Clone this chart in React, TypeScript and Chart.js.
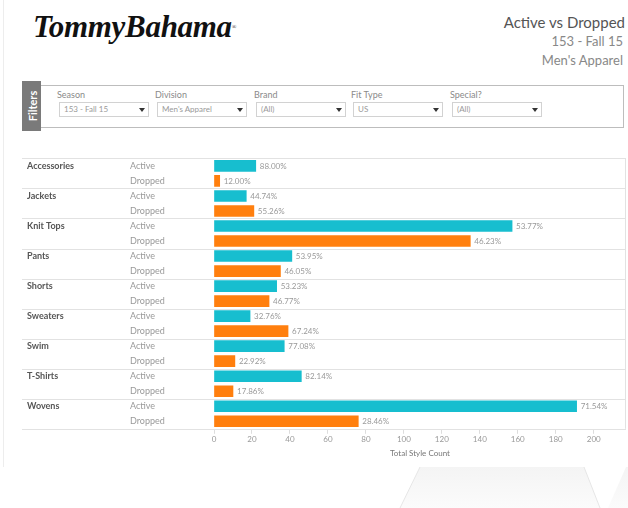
import React, { useEffect, useRef } from 'react';
import { Chart, registerables } from 'chart.js';

Chart.register(...registerables);

const categories = ['Accessories', 'Jackets', 'Knit Tops', 'Pants', 'Shorts', 'Sweaters', 'Swim', 'T-Shirts', 'Wovens'];
const statuses = ['Active', 'Dropped'];
const activeCounts = [22, 17, 157, 41, 33, 19, 37, 46, 191];
const droppedCounts = [3, 21, 135, 35, 29, 39, 11, 10, 76];
const activePct = ['88.00%', '44.74%', '53.77%', '53.95%', '53.23%', '32.76%', '77.08%', '82.14%', '71.54%'];
const droppedPct = ['12.00%', '55.26%', '46.23%', '46.05%', '46.77%', '67.24%', '22.92%', '17.86%', '28.46%'];
const xMin = 0;
const xMax = 217;
const xStep = 20;
const xTitle = 'Total Style Count';

const filterLabels = ['Season', 'Division', 'Brand', 'Fit Type', 'Special?'];
const filterValues = ['153 - Fall 15', "Men's Apparel", '(All)', 'US', '(All)'];

const titleText = 'Active vs Dropped';
const subtitle1 = '153 - Fall 15';
const subtitle2 = "Men's Apparel";

const ACTIVE_COLOR = '#17becf';
const DROPPED_COLOR = '#ff7f0e';
const FONT = 'Lato, "Open Sans", sans-serif';

const rowLabels: string[] = [];
const catLabels: string[] = [];
const rowValues: number[] = [];
const rowPct: string[] = [];
const rowColors: string[] = [];
categories.forEach((c, i) => {
  rowLabels.push(statuses[0], statuses[1]);
  catLabels.push(c, '');
  rowValues.push(activeCounts[i], droppedCounts[i]);
  rowPct.push(activePct[i], droppedPct[i]);
  rowColors.push(ACTIVE_COLOR, DROPPED_COLOR);
});

const overlayPlugin = {
  id: 'overlay',
  beforeDatasetsDraw(chart: any) {
    const ctx = chart.ctx;
    const ys = chart.scales.y;
    const right = chart.chartArea.right;
    ctx.save();
    ctx.strokeStyle = '#e2e2e2';
    ctx.lineWidth = 1;
    const n = categories.length;
    for (let k = 0; k <= n; k++) {
      const y = Math.round(ys.top + (k * (ys.bottom - ys.top)) / n) + 0.5;
      ctx.beginPath();
      ctx.moveTo(0, y);
      ctx.lineTo(right, y);
      ctx.stroke();
    }
    ctx.beginPath();
    ctx.moveTo(Math.round(right) - 0.5, ys.top);
    ctx.lineTo(Math.round(right) - 0.5, ys.bottom);
    ctx.stroke();
    ctx.restore();
  },
  afterDatasetsDraw(chart: any) {
    const ctx = chart.ctx;
    const meta = chart.getDatasetMeta(0);
    ctx.save();
    ctx.font = `8px ${FONT}`;
    ctx.fillStyle = '#999';
    ctx.textAlign = 'left';
    ctx.textBaseline = 'middle';
    meta.data.forEach((bar: any, i: number) => {
      ctx.fillText(rowPct[i], bar.x + 4, bar.y + 0.5);
    });
    ctx.restore();
  },
};

function BarChart() {
  const ref = useRef<HTMLCanvasElement>(null);
  useEffect(() => {
    if (!ref.current) return;
    const chart = new Chart(ref.current, {
      type: 'bar',
      data: {
        labels: rowLabels,
        datasets: [
          {
            data: rowValues,
            backgroundColor: rowColors,
            borderWidth: 0,
            barThickness: 11,
          },
        ],
      },
      options: {
        indexAxis: 'y',
        animation: false,
        responsive: false,
        devicePixelRatio: 1,
        layout: { padding: { left: 5, right: 2, top: 7, bottom: 0 } },
        plugins: {
          legend: { display: false },
          tooltip: { enabled: false },
        },
        scales: {
          x: {
            type: 'linear',
            min: xMin,
            max: xMax,
            ticks: {
              stepSize: xStep,
              includeBounds: false,
              color: '#999',
              font: { family: FONT, size: 8 },
              padding: 1,
            },
            grid: { drawOnChartArea: false, drawTicks: true, tickLength: 5, color: '#dddddd' },
            border: { display: false },
            title: {
              display: true,
              text: xTitle,
              color: '#777',
              font: { family: FONT, size: 8 },
              padding: { top: 3, bottom: 4 },
            },
          },
          y: {
            type: 'category',
            position: 'left',
            weight: 0,
            offset: true,
            ticks: {
              autoSkip: false,
              crossAlign: 'far',
              color: '#999',
              font: { family: FONT, size: 9 },
            },
            grid: { display: false },
            border: { display: false },
            afterFit: (s: any) => {
              s.width = 84;
            },
          },
          y2: {
            type: 'category',
            axis: 'y',
            position: 'left',
            weight: 1,
            offset: true,
            labels: catLabels,
            ticks: {
              autoSkip: false,
              crossAlign: 'far',
              color: '#555',
              font: { family: FONT, size: 9, weight: 'bold' },
            },
            grid: { display: false },
            border: { display: false },
            afterFit: (s: any) => {
              s.width = 103;
            },
          },
        },
      } as any,
      plugins: [overlayPlugin],
    });
    return () => chart.destroy();
  }, []);
  return <canvas ref={ref} width={606} height={312} style={{ width: 606, height: 312, display: 'block' }} />;
}

function Filters() {
  const boxLeft = [59, 157, 256, 353, 452];
  return (
    <>
      <div
        style={{
          position: 'absolute',
          left: 22,
          top: 81,
          width: 19,
          height: 50,
          background: '#7a7a7a',
        }}
      >
        <div
          style={{
            position: 'absolute',
            left: 9.5,
            top: 25,
            transform: 'translate(-50%, -50%) rotate(-90deg)',
            color: '#fff',
            fontWeight: 'bold',
            fontSize: 11,
            whiteSpace: 'nowrap',
            fontFamily: FONT,
          }}
        >
          Filters
        </div>
      </div>
      <div
        style={{
          position: 'absolute',
          left: 41,
          top: 85,
          width: 582,
          height: 41,
          borderTop: '1px solid #bdbdbd',
          borderBottom: '1px solid #bdbdbd',
          borderRight: '1px solid #bdbdbd',
          background: '#fff',
        }}
      />
      {filterLabels.map((lab, i) => (
        <React.Fragment key={lab}>
          <div
            style={{
              position: 'absolute',
              left: boxLeft[i] - 2,
              top: 89,
              fontSize: 9,
              color: '#8a8a8a',
              fontFamily: FONT,
              lineHeight: '12px',
            }}
          >
            {lab}
          </div>
          <div
            style={{
              position: 'absolute',
              left: boxLeft[i],
              top: 102,
              width: 88,
              height: 13,
              border: '1px solid #d2d2d2',
              background: '#fff',
            }}
          >
            <div
              style={{
                position: 'absolute',
                left: 4,
                top: 0,
                fontSize: 8,
                color: '#9a9a9a',
                fontFamily: FONT,
                lineHeight: '13px',
              }}
            >
              {filterValues[i]}
            </div>
            <div
              style={{
                position: 'absolute',
                right: 3,
                top: 5,
                width: 0,
                height: 0,
                borderLeft: '3.5px solid transparent',
                borderRight: '3.5px solid transparent',
                borderTop: '4px solid #333',
              }}
            />
          </div>
        </React.Fragment>
      ))}
    </>
  );
}

export default function App() {
  return (
    <div
      style={{
        position: 'absolute',
        left: 0,
        top: 0,
        width: 628,
        height: 508,
        background: '#fff',
        overflow: 'hidden',
        fontFamily: FONT,
      }}
    >
      <svg width={628} height={41} style={{ position: 'absolute', left: 0, top: 467 }}>
        <defs>
          <linearGradient id="g1" x1="0" y1="0" x2="0" y2="1">
            <stop offset="0" stopColor="#f4f4f4" />
            <stop offset="1" stopColor="#fbfbfb" />
          </linearGradient>
        </defs>
        <polygon points="420,0 584,0 600,41 400,41" fill="url(#g1)" />
        <polygon points="628,0 628,41 608,41 626,0" fill="url(#g1)" />
        <line x1="420" y1="0" x2="400" y2="41" stroke="#e6e6e6" strokeWidth="1" />
        <line x1="584" y1="0" x2="600" y2="41" stroke="#e6e6e6" strokeWidth="1" />
      </svg>
      <div style={{ position: 'absolute', left: 3, top: 0, width: 1, height: 467, background: '#ededed' }} />
      <div
        style={{
          position: 'absolute',
          left: 33,
          top: 7,
          fontFamily: '"Liberation Serif", serif',
          fontStyle: 'italic',
          fontWeight: 'bold',
          fontSize: 31,
          color: '#111',
          letterSpacing: -0.3,
          lineHeight: '40px',
          whiteSpace: 'nowrap',
        }}
      >
        TommyBahama
        <span style={{ fontSize: 6, verticalAlign: 'top', fontStyle: 'normal', fontWeight: 'normal' }}>®</span>
      </div>
      <div
        style={{
          position: 'absolute',
          right: 3,
          top: 13,
          textAlign: 'right',
          whiteSpace: 'nowrap',
        }}
      >
        <div style={{ fontSize: 15, color: '#555', lineHeight: '19px' }}>{titleText}</div>
        <div style={{ fontSize: 13, color: '#888', lineHeight: '19px', marginRight: 2 }}>{subtitle1}</div>
        <div style={{ fontSize: 13, color: '#888', lineHeight: '19px', marginRight: 2 }}>{subtitle2}</div>
      </div>
      <Filters />
      <div style={{ position: 'absolute', left: 22, top: 150 }}>
        <BarChart />
      </div>
    </div>
  );
}
